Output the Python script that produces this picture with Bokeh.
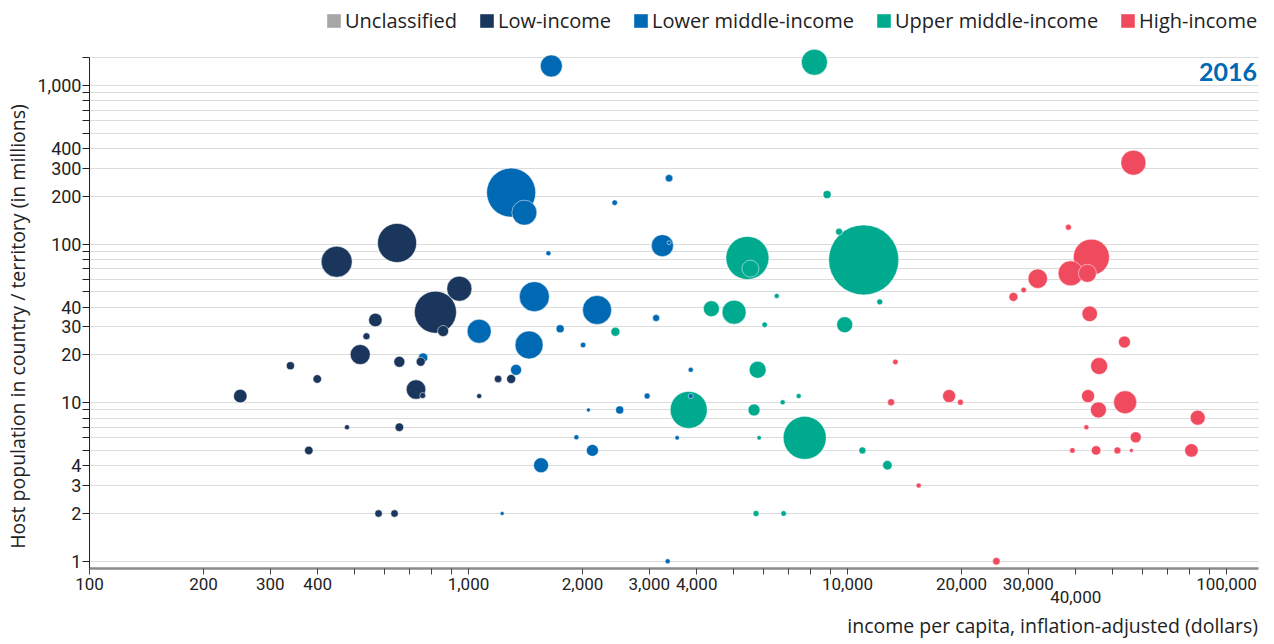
import math
from bokeh.plotting import figure
from bokeh.models import ColumnDataSource, FixedTicker, Legend, LegendItem, Label
from bokeh.embed import file_html
from bokeh.resources import INLINE

# ---------------- data ----------------
categories = ["Unclassified", "Low-income", "Lower middle-income",
              "Upper middle-income", "High-income"]
colors = ["#a6a6a6", "#1b365d", "#0069b4", "#00aa8e", "#f04a5f"]

# Low-income: income per capita ($), host population (millions), refugees hosted (thousands)
low_income = [648, 449, 946, 818, 857, 568, 538, 518, 339, 399, 250, 657, 748, 727,
              757, 657, 478, 379, 579, 638, 1067, 1197, 1296]
low_pop = [101.6, 77.4, 52.3, 37.2, 28.3, 33.2, 26.2, 20.1, 17.1, 14.1, 11.0, 18.1,
           18.1, 12.1, 11.1, 7.0, 7.0, 5.0, 2.0, 2.0, 11.0, 14.1, 14.1]
low_ref = [900, 569, 370, 1044, 72, 108, 29, 237, 38, 43, 108, 72, 48, 225,
           21, 43, 15, 43, 33, 33, 15, 33, 48]

# Lower middle-income
lmi_income = [1654, 1296, 1404, 1625, 1492, 2184, 759, 1335, 1067, 1445, 1745, 2006,
              2072, 1926, 2123, 1554, 1227, 3382, 2431, 3248, 3382, 3126, 3858, 2960,
              3858, 2506, 3552, 3354]
lmi_pop = [1327, 211, 157.8, 87.5, 46.6, 38.4, 19.2, 16.1, 28.2, 23.1, 29.2, 23.1,
           9.0, 6.05, 5.0, 4.03, 2.0, 260, 182.4, 97.7, 102, 34.2, 16.1, 11.0,
           11.0, 9.0, 6.0, 1.0]
lmi_ref = [286, 1421, 370, 15, 533, 498, 53, 72, 341, 464, 38, 18,
           9.5, 15, 85, 133, 9.5, 33, 18, 286, 9.5, 29, 15, 21,
           15, 38, 12, 15]

# Upper middle-income
umi_income = [8179, 8835, 5444, 5544, 11034, 9502, 6506, 12162, 2441, 4374, 5021,
              6046, 9831, 5794, 3811, 5668, 6745, 7433, 5845, 7711, 10947, 12744,
              5737, 6784]
umi_pop = [1401, 205, 81.7, 70.0, 79.4, 119.7, 47.1, 43.2, 28.0, 39.1, 37.2,
           31.0, 31.0, 16.1, 9.0, 9.0, 10.06, 11.0, 6.0, 6.0, 5.0, 4.03,
           2.0, 2.0]
umi_ref = [400, 38, 1094, 171, 2900, 29, 15, 21, 48, 151, 341,
           18, 151, 171, 810, 85, 15, 15, 12, 1094, 29, 53,
           21, 18]

# High-income
hi_income = [56800, 38270, 44000, 38800, 42950, 31770, 29160, 27400, 43560, 53780,
             46120, 13377, 13030, 18540, 19860, 43120, 45920, 54020, 83950, 42680,
             57600, 39210, 45280, 51540, 56120, 80800, 15412, 24710]
hi_pop = [326, 127.6, 82.6, 65.4, 65.4, 60.5, 51.3, 46.4, 36.3, 24.1,
          17.0, 18.06, 10.06, 11.0, 10.06, 11.0, 9.0, 10.06, 8.04, 7.0,
          6.05, 5.0, 5.0, 5.0, 5.0, 5.0, 3.0, 1.0]
hi_ref = [370, 21, 767, 370, 192, 225, 18, 48, 142, 85,
          171, 18, 29, 100, 21, 100, 151, 313, 133, 15,
          72, 18, 53, 29, 9.5, 108, 15, 33]

# ticks
x_tick_values = [100, 200, 300, 400, 1000, 2000, 3000, 4000, 10000, 20000, 30000, 40000, 100000]
x_tick_labels = ["100", "200", "300", "400", "1,000", "2,000", "3,000", "4,000",
                 "10,000", "20,000", "30,000", "40,000", "100,000"]
y_tick_values = [1, 2, 3, 4, 10, 20, 30, 40, 100, 200, 300, 400, 1000]
y_tick_labels = ["1", "2", "3", "4", "10", "20", "30", "40", "100", "200", "300", "400", "1,000"]

x_title = "income per capita, inflation-adjusted (dollars)"
y_title = "Host population in country / territory (in millions)"
year = "2016"

# ---------------- build ----------------
AX_X0, AX_X1 = 100, 121150        # extent of the x axis
AX_Y0, AX_Y1 = 0.9, 1500          # extent of the y axis / grid
VIEW_X0, VIEW_X1 = 58.24, 127500  # visible range (room for axis texts)
VIEW_Y0, VIEW_Y1 = 0.3074, 3432   # visible range (room for legend & labels)
MAX_D = 70
TEXT = "#222222"
FONT = "Open Sans"

groups = [(low_income, low_pop, low_ref, colors[1]),
          (lmi_income, lmi_pop, lmi_ref, colors[2]),
          (umi_income, umi_pop, umi_ref, colors[3]),
          (hi_income, hi_pop, hi_ref, colors[4])]
max_ref = max(max(g[2]) for g in groups)
rows = []
for gx, gy, gr, col in groups:
    for a, b, c in zip(gx, gy, gr):
        rows.append((a, b, MAX_D * math.sqrt(c / max_ref), col))
rows.sort(key=lambda r: -r[2])
src = ColumnDataSource(dict(x=[r[0] for r in rows], y=[r[1] for r in rows],
                            size=[r[2] for r in rows], color=[r[3] for r in rows]))

p = figure(x_axis_type="log", y_axis_type="log",
           x_range=(VIEW_X0, VIEW_X1), y_range=(VIEW_Y0, VIEW_Y1),
           width=1266, height=642, output_backend="svg", toolbar_location=None,
           min_border_left=0, min_border_right=0, min_border_top=0, min_border_bottom=0)
p.outline_line_color = None
p.background_fill_color = "white"

# y axis / grid
y_all = list(range(1, 10)) + list(range(10, 100, 10)) + list(range(100, 1100, 100)) + [AX_Y1]
p.ygrid.ticker = FixedTicker(ticks=y_all)
p.ygrid.grid_line_color = "#dcdcdc"
p.ygrid.grid_line_width = 1.2
p.ygrid.cross_bounds = (AX_X0, AX_X1)
p.xgrid.visible = False
p.yaxis.fixed_location = AX_X0
p.yaxis.bounds = (AX_Y0, AX_Y1)
p.yaxis.ticker = FixedTicker(ticks=y_all)
ylab = {t: "" for t in y_all}
for t, l in zip(y_tick_values, y_tick_labels):
    ylab[t] = l
p.yaxis.major_label_overrides = ylab
p.yaxis.axis_line_color = TEXT
p.yaxis.major_tick_line_color = TEXT
p.yaxis.major_tick_out = 7
p.yaxis.major_tick_in = 0
p.yaxis.minor_tick_line_color = None
p.yaxis.major_label_standoff = 1
p.yaxis.major_label_text_font = "Roboto"
p.yaxis.major_label_text_font_size = "18px"
p.yaxis.major_label_text_color = TEXT

# y axis title (rotated), slightly below the axis centre as in the original
p.add_layout(Label(x=AX_X0, y=AX_Y0, text=y_title, angle=math.pi / 2,
                   text_align="center", text_baseline="middle",
                   x_offset=-72, y_offset=242, text_font=FONT,
                   text_font_size="19.5px", text_color=TEXT))

# x axis, pinned at the bottom of the y axis
x_all = [m * 10 ** e for e in (2, 3, 4) for m in range(1, 10)] + [100000]
p.xaxis.fixed_location = AX_Y0
p.xaxis.bounds = (AX_X0, AX_X1)
p.xaxis.ticker = FixedTicker(ticks=x_all)
xlab = {t: "" for t in x_all}
for t, l in zip(x_tick_values, x_tick_labels):
    if l != "40,000":
        xlab[t] = l
p.xaxis.major_label_overrides = xlab
p.xaxis.axis_line_color = "#8a8a8a"
p.xaxis.axis_line_width = 2.5
p.xaxis.major_tick_line_color = "#444444"
p.xaxis.major_tick_out = 6
p.xaxis.major_tick_in = 0
p.xaxis.minor_tick_line_color = None
p.xaxis.major_label_standoff = 3
p.xaxis.major_label_text_font = "Roboto"
p.xaxis.major_label_text_font_size = "17px"
p.xaxis.major_label_text_color = TEXT

# staggered label 40,000
for t, l in zip(x_tick_values, x_tick_labels):
    if l == "40,000":
        p.add_layout(Label(x=t, y=AX_Y0, text=l, text_align="center", text_baseline="middle",
                           y_offset=-28, text_font="Roboto", text_font_size="17px",
                           text_color=TEXT))

# x axis title, right aligned
p.add_layout(Label(x=AX_X1, y=AX_Y0, text=x_title, text_align="right",
                   text_baseline="alphabetic", y_offset=-57, text_font=FONT,
                   text_font_size="19.5px", text_color=TEXT))

# year label
p.add_layout(Label(x=AX_X1, y=AX_Y1, text=year, text_align="right", text_baseline="top",
                   x_offset=-1, y_offset=-5, text_font="Lato", text_font_style="bold",
                   text_font_size="25px", text_color="#0069b4"))

# bubbles
p.scatter("x", "y", size="size", fill_color="color", line_color="white",
          line_alpha=0.5, line_width=1, source=src)

# legend with square swatches (renderers hold no drawable point)
nan = float("nan")
items = []
for cat, col in zip(categories, colors):
    r = p.quad(left=[nan], right=[nan], top=[nan], bottom=[nan], fill_color=col, line_color=None)
    items.append(LegendItem(label=cat, renderers=[r]))
legend = Legend(items=items, orientation="horizontal", location=(325, 608),
                glyph_width=17, glyph_height=17, label_standoff=3, spacing=21,
                padding=0, margin=0, border_line_color=None, background_fill_alpha=0,
                label_text_font=FONT, label_text_font_size="20px",
                label_text_color=TEXT)
p.add_layout(legend, "center")

open("out.html", "w").write(file_html(p, INLINE))
